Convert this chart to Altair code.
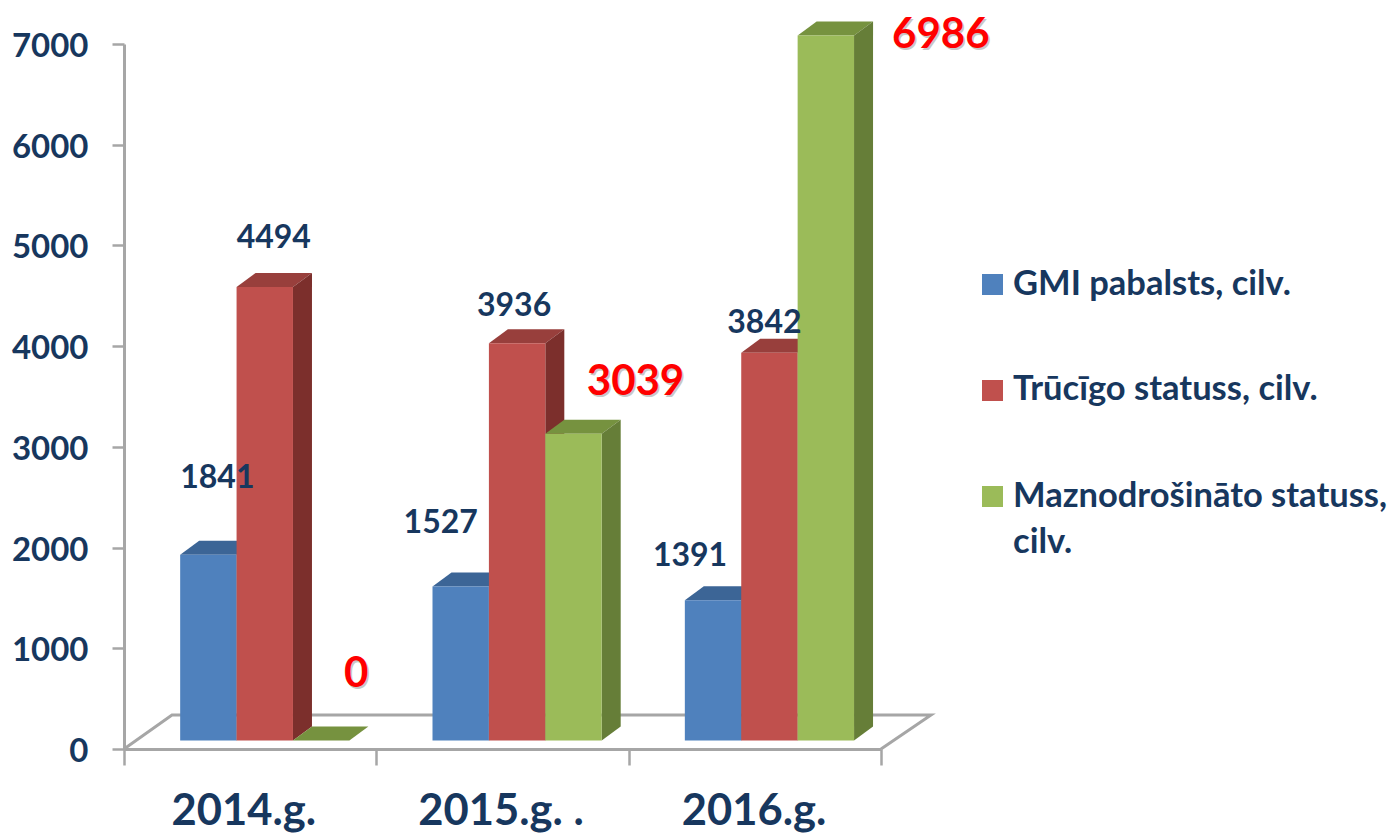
import altair as alt

# ---------- data ----------
years = ["2014.g.", "2015.g. .", "2016.g."]
series = ["GMI pabalsts, cilv.", "Trūcīgo statuss, cilv.", "Maznodrošināto statuss, cilv."]
gmi = [1841, 1527, 1391]
trucigo = [4494, 3936, 3842]
mazno = [0, 3039, 6986]
y_ticks = [0, 1000, 2000, 3000, 4000, 5000, 6000, 7000]

# ---------- styles / layout ----------
front = ["#4F81BD", "#C0504D", "#9BBB59"]
top_c = ["#3C6596", "#983F3C", "#76923F"]
side_c = ["#35577F", "#7C2F2C", "#667E38"]
navy = "#17375E"
red = "#FF0000"
grey = "#A6A6A6"
font = "Lato"

W, H = 757, 705
PX_X = W / 3.0            # px per category
PX_Y = 0.1009             # px per value of the bar scale
BAR_LEFT, BAR_W = 0.2226, 56.4 / PX_X
DX, DY = 19 / PX_X, 14 / PX_Y

x_scale = alt.Scale(domain=[0, 3], nice=False, zero=False)
axis_y_scale = alt.Scale(domain=[0, 7000], nice=False, zero=False)
bar_y_scale = alt.Scale(domain=[-8.5 / PX_Y, (H - 8.5) / PX_Y], nice=False, zero=False)
color_scale = alt.Scale(domain=series, range=front)

x_axis = alt.Axis(
    values=[0, 1, 2, 3], labels=False, title=None, grid=False, domainColor=grey,
    domainWidth=3, tickColor=grey, tickWidth=2.5, tickSize=16)

X = lambda f: alt.X(f, type="quantitative", scale=x_scale, axis=x_axis)
Y = lambda f: alt.Y(f, type="quantitative", scale=bar_y_scale, axis=None)

values = [gmi, trucigo, mazno]
layers = []

# real axes (invisible anchor mark)
layers.append(
    alt.Chart(alt.Data(values=[{"x": 0, "y": 0}]))
    .mark_point(opacity=0)
    .encode(
        x=X("x"),
        y=alt.Y("y:Q", scale=axis_y_scale, axis=alt.Axis(
            values=y_ticks, title=None, grid=False, domainColor=grey, domainWidth=3,
            tickColor=grey, tickWidth=2.5, tickSize=12, labelPadding=24,
            labelFont=font, labelFontWeight="bold", labelFontSize=33, labelColor=navy,
            labelOffset=2.5, format="d")),
    )
)

# floor outline
floor = [
    {"x": 0.0, "y": -8.5 / PX_Y, "o": 0},
    {"x": 48 / PX_X, "y": 25.5 / PX_Y, "o": 1},
    {"x": 807 / PX_X, "y": 25.5 / PX_Y, "o": 2},
    {"x": 3.0, "y": -8.5 / PX_Y, "o": 3},
]
layers.append(
    alt.Chart(alt.Data(values=floor))
    .mark_line(color=grey, strokeWidth=3)
    .encode(x=X("x"), y=Y("y"), order="o:Q")
)

# bars, series by series, each with top, side and front faces
for s, name in enumerate(series):
    top_rows, side_rows, front_rows = [], [], []
    for c, v in enumerate(values[s]):
        L = c + BAR_LEFT + s * BAR_W
        R = L + BAR_W
        key = f"{c}"
        top_rows += [
            {"k": key, "x": L, "lo": v, "hi": v},
            {"k": key, "x": L + DX, "lo": v, "hi": v + DY},
            {"k": key, "x": R, "lo": v, "hi": v + DY},
            {"k": key, "x": R + DX, "lo": v + DY, "hi": v + DY},
        ]
        if v > 0:
            side_rows += [
                {"k": key, "x": R, "lo": 0, "hi": v},
                {"k": key, "x": R + DX, "lo": DY, "hi": v + DY},
            ]
            front_rows.append({"x": L, "x2": R, "v": v, "s": name})
    layers.append(
        alt.Chart(alt.Data(values=top_rows))
        .mark_area(color=top_c[s], interpolate="linear")
        .encode(x=X("x"), y=Y("lo"), y2="hi:Q", detail="k:N")
    )
    layers.append(
        alt.Chart(alt.Data(values=side_rows))
        .mark_area(color=side_c[s], interpolate="linear")
        .encode(x=X("x"), y=Y("lo"), y2="hi:Q", detail="k:N")
    )
    layers.append(
        alt.Chart(alt.Data(values=front_rows))
        .mark_rect()
        .encode(
            x=X("x"), x2="x2:Q", y=Y("v"), y2=alt.Y2(datum=0),
            color=alt.Color("s:N", scale=color_scale, legend=None),
        )
    )

# data labels: offsets in px from the top centre of the bar (series, then year)
label_offsets = [
    [(9, 78), (-20, 65), (-23, 46)],
    [(9, 51), (-3, 39), (-5, 31)],
    [(35, 68), (62, 53), (115, 2)],
]
navy_rows, red_rows = [], []
for s in range(3):
    for c, v in enumerate(values[s]):
        ox, oy = label_offsets[s][c]
        row = {
            "x": c + BAR_LEFT + (s + 0.5) * BAR_W + ox / PX_X,
            "y": v + oy / PX_Y,
            "t": str(v),
        }
        (red_rows if s == 2 else navy_rows).append(row)

layers.append(
    alt.Chart(alt.Data(values=navy_rows))
    .mark_text(font=font, fontWeight="bold", fontSize=32, color=navy, baseline="middle", dy=1.5)
    .encode(x=X("x"), y=Y("y"), text="t:N")
)
layers.append(
    alt.Chart(alt.Data(values=red_rows))
    .mark_text(font=font, fontWeight="bold", fontSize=42, color="#777777", opacity=0.4,
               baseline="middle", dx=1.5, dy=3.5)
    .encode(x=X("x"), y=Y("y"), text="t:N")
)
layers.append(
    alt.Chart(alt.Data(values=red_rows))
    .mark_text(font=font, fontWeight="bold", fontSize=42, color=red, baseline="middle", dy=1.5)
    .encode(x=X("x"), y=Y("y"), text="t:N")
)

# category labels
cat_centres = [0.475, 1.494, 2.497]
layers.append(
    alt.Chart(alt.Data(values=[{"x": x, "t": t} for x, t in zip(cat_centres, years)]))
    .mark_text(font=font, fontWeight="bold", fontSize=43.5, color=navy, baseline="alphabetic")
    .encode(x=X("x"), y=alt.value(825 - 44), text="t:N")
)

# legend
legend_sym = [{"s": n, "py": py - 44} for n, py in zip(series, [284.5, 390.5, 496.5])]
layers.append(
    alt.Chart(alt.Data(values=legend_sym))
    .mark_square(size=441, opacity=1, filled=True)
    .encode(
        x=alt.value(992.5 - 124),
        y=alt.Y("py:Q", scale=None, axis=None),
        color=alt.Color("s:N", scale=color_scale, legend=None),
    )
)
legend_lines = ["GMI pabalsts, cilv.", "Trūcīgo statuss, cilv.", "Maznodrošināto statuss,", "cilv."]
legend_txt = [{"t": t, "py": py - 44} for t, py in zip(legend_lines, [285, 390, 497, 543])]
layers.append(
    alt.Chart(alt.Data(values=legend_txt))
    .mark_text(font=font, fontWeight="bold", fontSize=34.5, color=navy, align="left", baseline="middle")
    .encode(x=alt.value(1013 - 124), y=alt.Y("py:Q", scale=None, axis=None), text="t:N")
)

chart = (
    alt.layer(*layers)
    .resolve_scale(y="independent")
    .properties(
        width=W, height=H,
        autosize=alt.AutoSizeParams(type="none"),
        padding={"left": 116, "top": 36, "right": 509, "bottom": 86},
    )
    .configure_view(stroke=None)
)
chart.save("out.html", embed_options={"renderer": "svg", "actions": False})
